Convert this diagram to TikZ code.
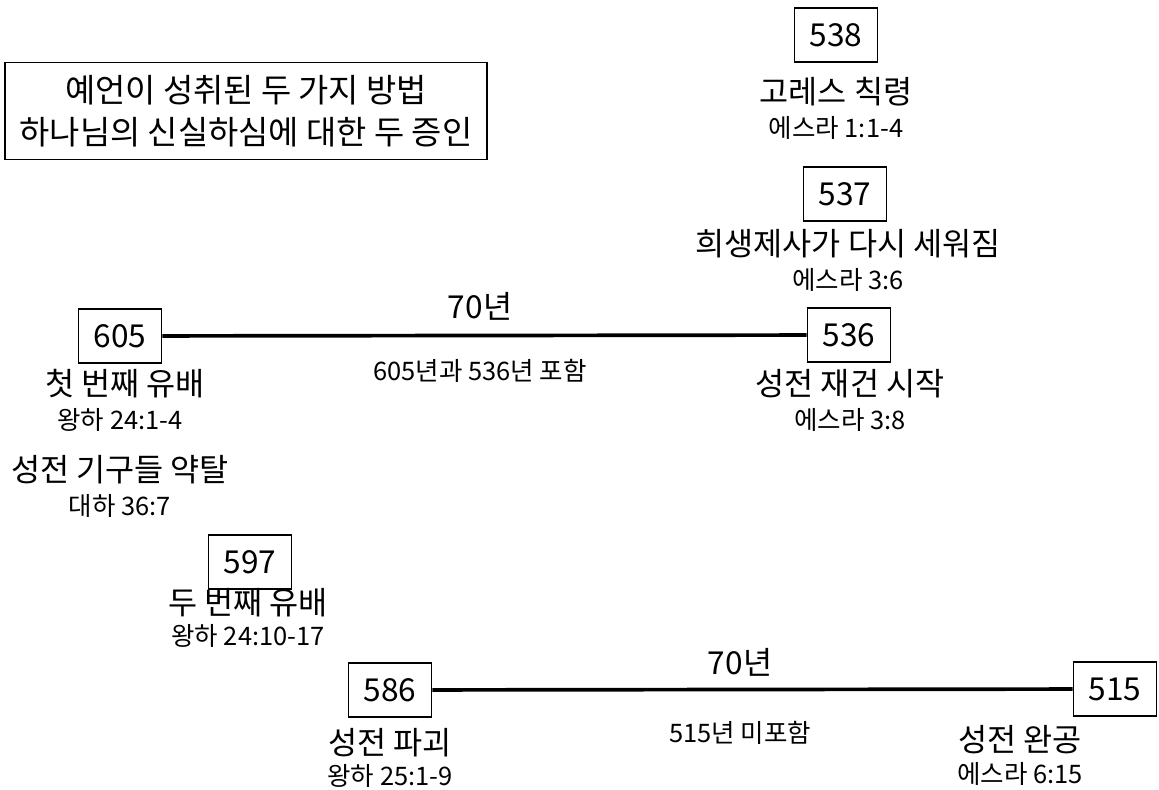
\documentclass[tikz,border=0pt]{standalone}
\usepackage{fontspec}
\setmainfont{Noto Sans CJK KR}

\begin{document}
\begin{tikzpicture}[x=0.02cm,y=-0.02cm,
	datebox/.style={draw,line width=1pt,minimum width=1.66cm,minimum height=1.08cm,inner sep=0pt,font=\fontsize{18}{20}\selectfont},
	biglabel/.style={inner sep=0pt,font=\fontsize{18}{20}\selectfont},
	reflabel/.style={inner sep=0pt,font=\fontsize{14.5}{16}\selectfont},
	span/.style={line width=2.1pt}]
	\useasboundingbox (0,0) rectangle (1159,790);
	% title
	\node[draw,line width=1pt,minimum width=9.64cm,minimum height=1.94cm,align=center,font=\fontsize{18.7}{24}\selectfont] (title) at (246,111) {예언이 성취된 두 가지 방법\\하나님의 신실하심에 대한 두 증인};
	% upper line
	\node[datebox] (d605) at (120,336) {605};
	\node[datebox] (d536) at (849,335) {536};
	\draw[span] (d605) -- (d536);
	\node[biglabel] (y70a) at (480,306) {70년};
	\node[reflabel] (incl) at (480,371) {605년과 536년 포함};
	\node[biglabel] (exile1) at (125,384) {첫 번째 유배};
	\node[reflabel] (ref605) at (120,420) {왕하 24:1-4};
	\node[biglabel] (loot) at (120,470) {성전 기구들 약탈};
	\node[reflabel] (refloot) at (120,506) {대하 36:7};
	\node[biglabel] (rebuild) at (850,384) {성전 재건 시작};
	\node[reflabel] (ref536) at (850,420) {에스라 3:8};
	% top right
	\node[datebox] (d538) at (836,35) {538};
	\node[biglabel] (cyrus) at (836,92) {고레스 칙령};
	\node[reflabel] (ref538) at (836,128) {에스라 1:1-4};
	\node[datebox] (d537) at (845,194) {537};
	\node[biglabel] (sacrifice) at (848,244) {희생제사가 다시 세워짐};
	\node[reflabel] (ref537) at (848,280) {에스라 3:6};
	% second exile
	\node[datebox] (d597) at (250,562) {597};
	\node[biglabel] (exile2) at (248,603) {두 번째 유배};
	\node[reflabel] (ref597) at (248,636) {왕하 24:10-17};
	% lower line
	\node[datebox] (d586) at (390,690) {586};
	\node[datebox] (d515) at (1115,689) {515};
	\draw[span] (d586) -- (d515);
	\node[biglabel] (y70b) at (740,662) {70년};
	\node[reflabel] (excl) at (740,733) {515년 미포함};
	\node[biglabel] (destroy) at (390,743) {성전 파괴};
	\node[reflabel] (ref586) at (390,776) {왕하 25:1-9};
	\node[biglabel] (finish) at (1020,740) {성전 완공};
	\node[reflabel] (ref515) at (1020,774) {에스라 6:15};
\end{tikzpicture}
\end{document}
